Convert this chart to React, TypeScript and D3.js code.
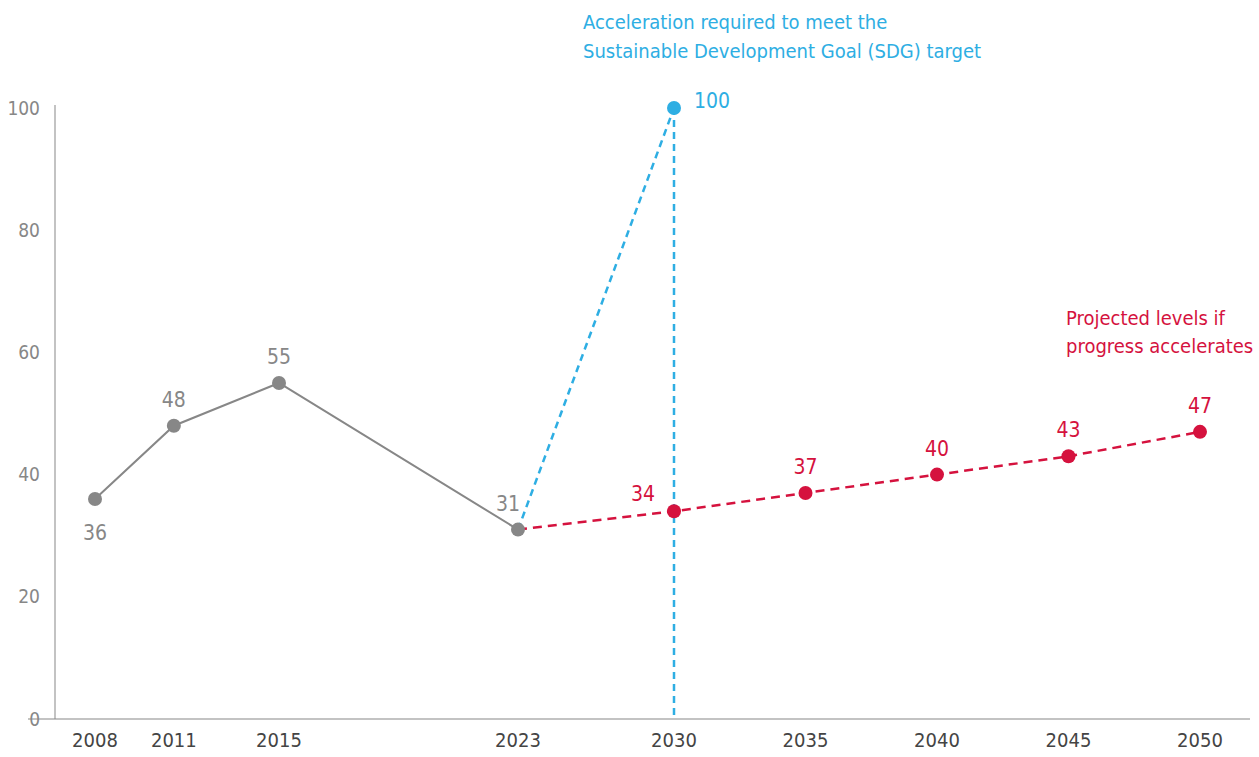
import * as d3 from "d3";

const years = [2008, 2011, 2015, 2023, 2030, 2035, 2040, 2045, 2050];
const historyYears = [2008, 2011, 2015, 2023];
const historyValues = [36, 48, 55, 31];
const projYears = [2023, 2030, 2035, 2040, 2045, 2050];
const projValues = [31, 34, 37, 40, 43, 47];
const targetYears = [2023, 2030];
const targetValues = [31, 100];
const yTicks = [0, 20, 40, 60, 80, 100];

const GRAY = "#878787";
const BLUE = "#2eaee3";
const RED = "#d5123e";
const FONT = "'DejaVu Sans Condensed', Roboto, sans-serif";

const W = 1259, H = 757;

export default function App() {
  // x positions are not proportional to time in the original, so a piecewise scale
  const x = d3.scaleLinear()
    .domain([2008, 2015, 2023, 2030, 2050])
    .range([95, 279, 518, 674, 1200]);
  const y = d3.scaleLinear().domain([0, 100]).range([719, 108]);

  const line = d3.line<[number, number]>()
    .x(d => x(d[0]))
    .y(d => y(d[1]));

  const hist = historyYears.map((yr, i) => [yr, historyValues[i]] as [number, number]);
  const proj = projYears.map((yr, i) => [yr, projValues[i]] as [number, number]);
  const target = targetYears.map((yr, i) => [yr, targetValues[i]] as [number, number]);

  const fs = 21;
  const afs = 20;

  return (
    <svg width={W} height={H} style={{ position: "absolute", left: 0, top: 0 }} fontFamily={FONT}>
      {/* axes */}
      <line x1={55} x2={55} y1={105} y2={y(0)} stroke={GRAY} strokeWidth={1} />
      <line x1={28} x2={1250} y1={y(0)} y2={y(0)} stroke={GRAY} strokeWidth={1} />
      {yTicks.map(t => (
        <text key={t} x={40} y={y(t)} dy="0.35em" textAnchor="end" fontSize={19} fill={GRAY}>{t}</text>
      ))}
      {years.map(yr => (
        <text key={yr} x={x(yr)} y={747} textAnchor="middle" fontSize={20} fill="#444">{yr}</text>
      ))}

      {/* target path */}
      <path d={line(target) || ""} fill="none" stroke={BLUE} strokeWidth={2.5} strokeDasharray="7,5" />
      <line x1={x(2030)} x2={x(2030)} y1={y(100)} y2={y(0)} stroke={BLUE} strokeWidth={2.5} strokeDasharray="7,5" />

      {/* projection */}
      <path d={line(proj) || ""} fill="none" stroke={RED} strokeWidth={2.5} strokeDasharray="9,6" />

      {/* history */}
      <path d={line(hist) || ""} fill="none" stroke={GRAY} strokeWidth={2} />

      {proj.slice(1).map(d => (
        <circle key={d[0]} cx={x(d[0])} cy={y(d[1])} r={7} fill={RED} />
      ))}
      {hist.map(d => (
        <circle key={d[0]} cx={x(d[0])} cy={y(d[1])} r={7} fill={GRAY} />
      ))}
      <circle cx={x(2030)} cy={y(100)} r={7} fill={BLUE} />

      {/* value labels */}
      {hist.map(d => {
        const below = d[0] === 2008;
        const left = d[0] === 2023;
        return (
          <text key={"h" + d[0]} x={x(d[0]) + (left ? -10 : 0)} y={y(d[1]) + (below ? 41 : -19)}
            textAnchor="middle" fontSize={fs} fill={GRAY}>{d[1]}</text>
        );
      })}
      {proj.slice(1).map(d => {
        const left = d[0] === 2030;
        return (
          <text key={"p" + d[0]} x={x(d[0]) + (left ? -31 : 0)} y={y(d[1]) + (left ? -10 : -19)}
            textAnchor="middle" fontSize={fs} fill={RED}>{d[1]}</text>
        );
      })}
      <text x={x(2030) + 20} y={y(100) - 0} fontSize={fs} fill={BLUE}>{targetValues[1]}</text>

      {/* annotations */}
      <text x={583} y={29} fontSize={afs} fill={BLUE}>Acceleration required to meet the</text>
      <text x={583} y={58} fontSize={afs} fill={BLUE}>Sustainable Development Goal (SDG) target</text>
      <text x={1066} y={325} fontSize={afs} fill={RED}>Projected levels if</text>
      <text x={1066} y={353} fontSize={afs} fill={RED}>progress accelerates</text>
    </svg>
  );
}
